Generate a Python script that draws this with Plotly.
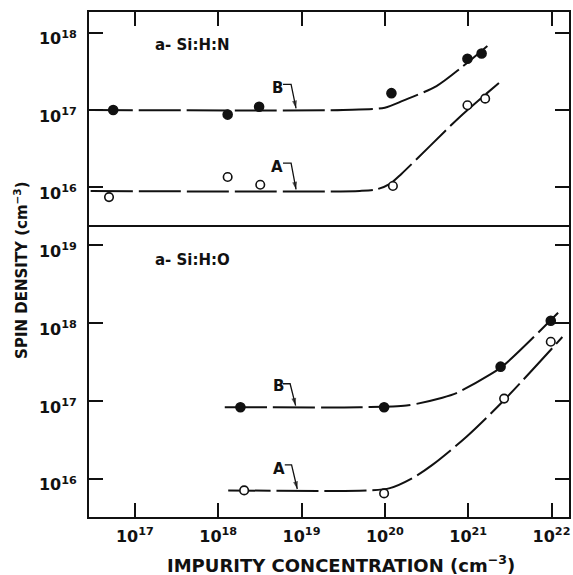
import numpy as np
import plotly.graph_objects as go

# ---------------- data ----------------
# a-Si:H:N panel (top)
n_B_x = [5.5e16, 1.3e18, 3.1e18, 1.2e20, 9.8e20, 1.45e21]
n_B_y = [1.0e17, 8.7e16, 1.1e17, 1.65e17, 4.6e17, 5.4e17]
n_A_x = [4.9e16, 1.3e18, 3.2e18, 1.25e20, 9.8e20, 1.6e21]
n_A_y = [7.4e15, 1.35e16, 1.07e16, 1.03e16, 1.15e17, 1.4e17]

n_B_fit_x = [2.95e16, 3.16e19, 1.0e20, 1.66e20, 4.17e20, 8.3e20, 1.7e21]
n_B_fit_y = [1.0e17, 1.0e17, 1.07e17, 1.32e17, 2.04e17, 3.55e17, 6.76e17]
n_A_fit_x = [2.95e16, 5.0e19, 7.9e19, 1.15e20, 1.58e20, 3.47e20, 7.76e20, 2.34e21]
n_A_fit_y = [8.9e15, 8.9e15, 9.3e15, 1.1e16, 1.48e16, 3.39e16, 7.94e16, 2.24e17]

# a-Si:H:O panel (bottom)
o_B_x = [1.85e18, 9.8e19, 2.45e21, 9.8e21]
o_B_y = [8.3e16, 8.3e16, 2.75e17, 1.07e18]
o_A_x = [2.05e18, 9.8e19, 2.7e21, 9.8e21]
o_A_y = [7.1e15, 6.5e15, 1.07e17, 5.75e17]

o_B_fit_x = [1.2e18, 5.0e19, 1.82e20, 4.9e20, 7.24e20, 1.78e21, 2.69e21, 1.2e22]
o_B_fit_y = [8.3e16, 8.3e16, 8.7e16, 1.1e17, 1.26e17, 2.14e17, 2.88e17, 1.35e18]
o_A_fit_x = [1.32e18, 6.3e19, 1.15e20, 2.14e20, 3.72e20, 9.55e20, 2.69e21, 1.35e22]
o_A_fit_y = [7.1e15, 7.1e15, 7.6e15, 1.02e16, 1.51e16, 3.47e16, 1.02e17, 6.6e17]

x_ticks = [1e17, 1e18, 1e19, 1e20, 1e21, 1e22]
y_ticks_top = [1e16, 1e17, 1e18]
y_ticks_bot = [1e16, 1e17, 1e18, 1e19]

# curve labels: (text, axis, label x, label y, hook start x, hook corner x, hook y, tip x, tip y)
curve_labels = [
    ("B", "2", 5.1e18, 1.95e17, 6.0e18, 7.5e18, 2.14e17, 8.6e18, 1.05e17),
    ("A", "2", 5.1e18, 1.82e16, 6.0e18, 7.5e18, 2.04e16, 8.6e18, 9.3e15),
    ("B", "", 5.3e18, 1.55e17, 6.0e18, 7.3e18, 1.66e17, 8.5e18, 8.7e16),
    ("A", "", 5.4e18, 1.35e16, 6.3e18, 7.6e18, 1.51e16, 8.9e18, 7.4e15),
]
panel_names = [("a- Si:H:N", "2", 1.65e17, 7.0e17), ("a- Si:H:O", "", 1.65e17, 6.4e18)]

FONT = "DejaVu Sans"
INK = "#111111"
DASH = "42px,6px"


def sup(v):
    return "10<sup>%d</sup>" % round(np.log10(v))


fig = go.Figure()


def add_fit(x, y, ax):
    fig.add_trace(go.Scatter(x=x, y=y, mode="lines", xaxis="x" + ax, yaxis="y" + ax,
                             line=dict(color=INK, width=2, dash=DASH, shape="spline", smoothing=0.8),
                             hoverinfo="skip", showlegend=False))


def add_points(x, y, ax, filled):
    fig.add_trace(go.Scatter(x=x, y=y, mode="markers", xaxis="x" + ax, yaxis="y" + ax,
                             marker=dict(size=9 if filled else 8.5, symbol="circle",
                                         color=INK if filled else "white",
                                         line=dict(color=INK, width=1.6)),
                             showlegend=False))


add_fit(n_B_fit_x, n_B_fit_y, "2")
add_fit(n_A_fit_x, n_A_fit_y, "2")
add_fit(o_B_fit_x, o_B_fit_y, "")
add_fit(o_A_fit_x, o_A_fit_y, "")
add_points(n_B_x, n_B_y, "2", True)
add_points(n_A_x, n_A_y, "2", False)
add_points(o_B_x, o_B_y, "", True)
add_points(o_A_x, o_A_y, "", False)

annotations = []
for text, ax, lx, ly, hx0, hx1, hy, tx, ty in curve_labels:
    fig.add_trace(go.Scatter(x=[hx0, hx1, tx], y=[hy, hy, ty], mode="lines+markers",
                             xaxis="x" + ax, yaxis="y" + ax,
                             line=dict(color=INK, width=1.3),
                             marker=dict(symbol="arrow", size=[0, 0, 8], angleref="previous",
                                         color=INK, line=dict(width=0)),
                             hoverinfo="skip", showlegend=False))
    annotations.append(dict(text=text, x=np.log10(lx), y=np.log10(ly),
                            xref="x" + ax, yref="y" + ax, showarrow=False,
                            xanchor="center", yanchor="middle",
                            font=dict(family=FONT, size=15, color=INK, weight="bold")))

for text, ax, lx, ly in panel_names:
    annotations.append(dict(text=text, x=np.log10(lx), y=np.log10(ly),
                            xref="x" + ax, yref="y" + ax, showarrow=False,
                            xanchor="left", yanchor="middle",
                            font=dict(family=FONT, size=15, color=INK, weight="bold")))

annotations.append(dict(text="SPIN DENSITY (cm<sup>\u22123</sup>)", textangle=-90,
                        x=-0.143, y=0.488, xref="paper", yref="paper", showarrow=False,
                        xanchor="center", yanchor="middle",
                        font=dict(family=FONT, size=15, color=INK, weight="bold")))
annotations.append(dict(text="IMPURITY CONCENTRATION (cm<sup>\u22123</sup>)",
                        x=0.525, y=-0.093, xref="paper", yref="paper", showarrow=False,
                        xanchor="center", yanchor="middle",
                        font=dict(family=FONT, size=18, color=INK, weight="bold")))

tickfont = dict(family=FONT, size=16, color=INK, weight="bold")
common = dict(type="log", showgrid=False, zeroline=False, showline=True, linecolor=INK,
              linewidth=2, ticks="inside", ticklen=14, tickwidth=1.5, tickcolor=INK,
              tickfont=tickfont)

split = 0.574
fig.update_layout(
    width=573, height=575,
    margin=dict(l=89, r=2, t=12, b=58),
    paper_bgcolor="white", plot_bgcolor="white",
    xaxis=dict(common, domain=[0, 1], anchor="y", range=[16.45, 22.21], mirror=True,
               ticklabelstandoff=4,
               tickvals=x_ticks, ticktext=[sup(v) for v in x_ticks]),
    xaxis2=dict(common, domain=[0, 1], anchor="y2", range=[16.45, 22.21], mirror=False,
                side="top", matches="x", showticklabels=False, tickvals=x_ticks),
    yaxis=dict(common, domain=[0, split], anchor="x", range=[15.51, 19.23], mirror="ticks",
               ticklabelstandoff=7, ticklabelshift=6,
               tickvals=y_ticks_bot, ticktext=[sup(v) for v in y_ticks_bot]),
    yaxis2=dict(common, domain=[split, 1], anchor="x2", range=[15.48, 18.27], mirror="ticks",
                ticklabelstandoff=7, ticklabelshift=6,
                tickvals=y_ticks_top, ticktext=[sup(v) for v in y_ticks_top]),
    annotations=annotations,
    showlegend=False,
)

fig.write_html("out.html")
